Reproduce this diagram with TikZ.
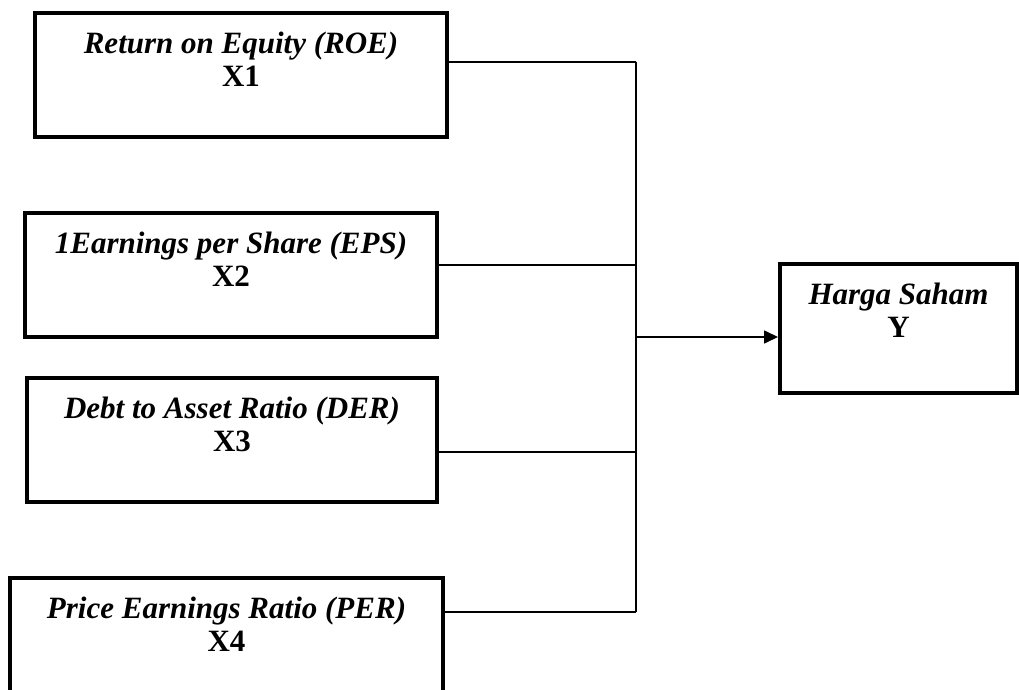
\documentclass[tikz,border=0pt]{standalone}
\usepackage{fontspec}
\setmainfont{Liberation Serif}
\usetikzlibrary{positioning,arrows.meta}

\tikzset{
    varbox/.style={draw, line width=4pt, minimum height=124pt, inner sep=0pt},
    vartext/.style={align=center, inner sep=0pt, font=\fontsize{31}{33}\selectfont},
    link/.style={line width=1.6pt}
}

\begin{document}
\begin{tikzpicture}[x=1pt, y=-1pt]
    \useasboundingbox (0,0) rectangle (1019,690);

    % Independent variables
    \node[varbox, minimum width=412pt] (x1) at (241,75) {};
    \node[varbox, minimum width=412pt] (x2) at (231,275) {};
    \node[varbox, minimum width=410pt] (x3) at (232,440) {};
    \node[varbox, minimum width=433pt] (x4) at (226.5,640) {};

    % Dependent variable
    \node[varbox, minimum width=237pt, minimum height=129pt] (y) at (898.5,328.5) {};

    % Labels
    \node[vartext, below=21pt of x1.north] (t1) {\textbf{\textit{Return on Equity (ROE)}}\\\textbf{X1}};
    \node[vartext, below=21pt of x2.north] (t2) {\textbf{\textit{1Earnings per Share (EPS)}}\\\textbf{X2}};
    \node[vartext, below=21pt of x3.north] (t3) {\textbf{\textit{Debt to Asset Ratio (DER)}}\\\textbf{X3}};
    \node[vartext, below=21pt of x4.north] (t4) {\textbf{\textit{Price Earnings Ratio (PER)}}\\\textbf{X4}};
    \node[vartext, below=21pt of y.north] (ty) {\textbf{\textit{Harga Saham}}\\\textbf{Y}};

    % Junction points
    \coordinate (j1) at (636,62);
    \coordinate (j2) at (636,265);
    \coordinate (j3) at (636,452);
    \coordinate (j4) at (636,612);
    \coordinate (jy) at (636,337);

    % Connectors
    \draw[link] (x1.east |- j1) -- (j1);
    \draw[link] (x2.east |- j2) -- (j2);
    \draw[link] (x3.east |- j3) -- (j3);
    \draw[link] (x4.east |- j4) -- (j4);
    \draw[link] (j1) -- (j4);
    \draw[link, -{Triangle[length=14pt, width=13pt]}] (jy) -- (y.west |- jy);
\end{tikzpicture}
\end{document}
